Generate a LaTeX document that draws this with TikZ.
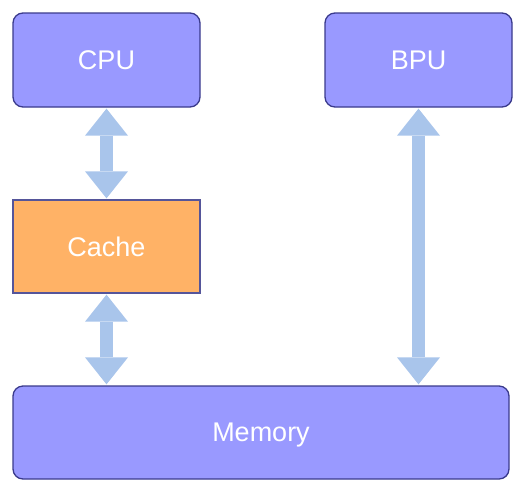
\documentclass[tikz,border=0pt]{standalone}
\usepackage{fontspec}
\setmainfont{Liberation Sans}
\usetikzlibrary{arrows.meta}
\definecolor{boxfill}{HTML}{9999FF}
\definecolor{boxline}{HTML}{3A3A8C}
\definecolor{cachefill}{HTML}{FFB266}
\definecolor{cacheline}{HTML}{55559A}
\definecolor{arrowcol}{HTML}{A9C5EB}
\tikzset{
  unitbox/.style={draw=boxline, fill=boxfill, line width=1.3pt, rounded corners=10pt,
    text=white, font=\fontsize{27}{31}\selectfont, inner sep=0pt, text depth=0pt},
  cachebox/.style={draw=cacheline, fill=cachefill, line width=1.3pt,
    text=white, font=\fontsize{27}{31}\selectfont, inner sep=0pt, text depth=0pt},
  bus/.style={draw=arrowcol, line width=13pt,
    {Triangle[width=43pt,length=27pt,line width=0pt]}-{Triangle[width=43pt,length=27pt,line width=0pt]}},
}
\begin{document}
\begin{tikzpicture}[x=1pt,y=-1pt]
\useasboundingbox (0,0) rectangle (526,493);
\node[unitbox, minimum width=187pt, minimum height=94pt] (cpu) at (106.5,60) {CPU};
\node[unitbox, minimum width=187pt, minimum height=94pt] (bpu) at (418.5,60) {BPU};
\node[cachebox, minimum width=187pt, minimum height=93pt] (cache) at (106.5,246.5) {Cache};
\node[unitbox, minimum width=496pt, minimum height=93pt] (mem) at (261,432.5) {Memory};
\draw[bus] ([yshift=-1pt]cpu.south) -- ([yshift=1pt]cache.north);
\draw[bus] ([yshift=-1pt]cache.south) -- ([yshift=1pt]cache.south |- mem.north);
\draw[bus] ([yshift=-1pt]bpu.south) -- ([yshift=1pt]bpu.south |- mem.north);
\end{tikzpicture}
\end{document}
